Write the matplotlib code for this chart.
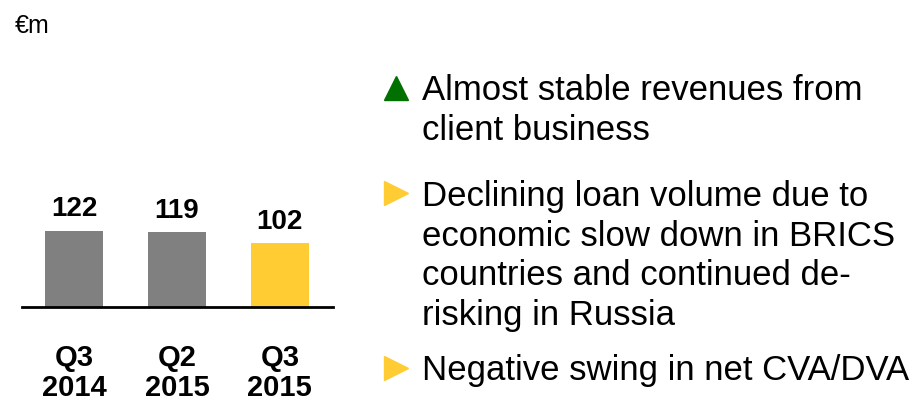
import matplotlib
matplotlib.use('Agg')
import matplotlib.pyplot as plt

# data
periods = ['Q3\n2014', 'Q2\n2015', 'Q3\n2015']
revenues = [122, 119, 102]
bar_colors = ['#808080', '#808080', '#FFCC33']

bullet_marks = ['^', '>', '>']
bullet_colors = ['#007000', '#FFCC33', '#FFCC33']
bullet_texts = [
    'Almost stable revenues from\nclient business',
    'Declining loan volume due to\neconomic slow down in BRICS\ncountries and continued de-\nrisking in Russia',
    'Negative swing in net CVA/DVA',
]

plt.rcParams['font.family'] = ['Liberation Sans', 'DejaVu Sans']

fig = plt.figure(figsize=(9.22, 4.02), dpi=100)
ax = fig.add_axes([0.0239, 0.234, 0.337, 0.249])

x = range(len(periods))
bars = ax.bar(x, revenues, width=0.563, color=bar_colors)
for b, v in zip(bars, revenues):
    ax.text(b.get_x() + b.get_width() / 2, v + 15, str(v), ha='center', va='bottom',
            fontsize=20, fontweight='bold')

ax.set_xlim(-0.505, 2.515)
ax.set_ylim(0, 160)
ax.set_xticks(list(x))
ax.set_xticklabels(periods, fontsize=21, fontweight='bold', linespacing=1.1)
ax.tick_params(axis='x', length=0, pad=26)
ax.set_yticks([])
for s in ['top', 'left', 'right']:
    ax.spines[s].set_visible(False)
ax.spines['bottom'].set_linewidth(2)

fig.text(0.016, 0.935, '\u20acm', fontsize=18, va='center')

# bullet points on the right (overlay in pixel units)
ov = fig.add_axes([0, 0, 1, 1], zorder=-1)
ov.set_xlim(0, 922)
ov.set_ylim(402, 0)
ov.axis('off')
marker_y = [89, 194, 369]
last_baseline = [140, 325, 380]
for m, col, txt, my, ty in zip(bullet_marks, bullet_colors, bullet_texts, marker_y, last_baseline):
    ov.plot([396], [my], marker=m, color=col, markersize=17.5, linestyle='none')
    ov.text(422, ty, txt, fontsize=25, va='baseline', linespacing=1.25)

plt.savefig('out.png', dpi=100)
